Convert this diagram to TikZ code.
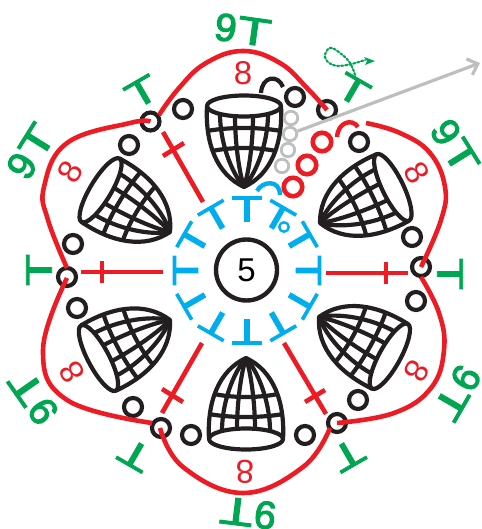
\documentclass[tikz,border=0pt]{standalone}
\usepackage{fontspec}
\setmainfont{Liberation Sans}
\usetikzlibrary{arrows.meta}
\newfontfamily\cyT{Liberation Sans}[FakeStretch=1.42,FakeBold=2.5]
\newfontfamily\nineF{Liberation Sans}[FakeBold=3]
\definecolor{myred}{RGB}{237,28,36}
\definecolor{mygreen}{RGB}{0,166,81}
\definecolor{mycyan}{RGB}{0,174,239}
\definecolor{myblack}{RGB}{35,31,32}
\definecolor{mygrey}{RGB}{188,190,192}
\tikzset{
 x=1pt,y=-1pt,
 blk/.style={draw=myblack,line width=4.2pt,circle,minimum size=18pt,inner sep=0pt},
 redc/.style={draw=myred,line width=4.6pt,circle,minimum size=18.5pt,inner sep=0pt},
 gryc/.style={draw=mygrey,line width=2.8pt,circle,minimum size=13.5pt,inner sep=0pt},
 redl/.style={draw=myred,line width=4.6pt},
 petal/.style={redl},
 cyanT/.style={text=mycyan,inner sep=0pt,font=\cyT\fontsize{36}{36}\selectfont},
 greenT/.style={text=mygreen,inner sep=0pt,font=\cyT\fontsize{37}{37}\selectfont},
 nineT/.style={text=mygreen,inner sep=0pt,font=\fontsize{39}{39}\selectfont},
 eight/.style={text=myred,inner sep=0pt,font=\fontsize{33}{33}\selectfont},
 fan/.pic={
  \begin{scope}[draw=myblack,line width=4.2pt,line join=round]
   \draw (-37,-81) .. controls (-39,-45) and (-28,-13) .. (0,0)
         .. controls (28,-13) and (39,-45) .. (37,-81);
   \draw (0,-81) ellipse [x radius=37,y radius=10.5];
   \draw (9,-71) .. controls (9,-45) and (5,-15) .. (0,0);
   \draw (-9,-71) .. controls (-9,-45) and (-5,-15) .. (0,0);
   \draw (24,-73) .. controls (24,-45) and (13,-15) .. (0,0);
   \draw (-24,-73) .. controls (-24,-45) and (-13,-15) .. (0,0);
   \draw (-37,-56) .. controls (-15,-60) and (15,-60) .. (37,-56);
   \draw (-32,-36) .. controls (-12,-40) and (12,-40) .. (32,-36);
  \end{scope}
 }
}
\begin{document}
\begin{tikzpicture}
\useasboundingbox (0,0) rectangle (481,529);
% centre
\node[draw=myblack,line width=4.4pt,circle,minimum size=61pt,inner sep=0pt,font=\fontsize{33}{33}\selectfont] (hub) at (246.5,270) {5};
% cyan ring
\foreach \a [count=\i] in {0,30,...,330}
  \node[cyanT,rotate=\a] (c\i) at ({247-61.5*sin(\a)},{270.5-61.5*cos(\a)}) {T};
\draw[mycyan,line width=4.4pt] (257,191) .. controls (262,181) and (280,179) .. (280,195);
\node[draw=mycyan,line width=2.4pt,circle,minimum size=9.5pt,inner sep=0pt] (co) at (284,227) {};
% fans
\pic[rotate=0] at (244,187) {fan};
\pic[rotate=-64] at (320,223) {fan};
\pic[rotate=-119] at (319,317) {fan};
\pic[rotate=180] at (246,358) {fan};
\pic[rotate=118] at (170,320) {fan};
\pic[rotate=59] at (170,232) {fan};
% vertices
\node[blk] (vur) at (327,110) {};
\node[blk] (vr) at (421,267) {};
\node[blk] (vlr) at (337,423) {};
\node[blk] (vll) at (161,428) {};
\node[blk] (vl) at (67,277) {};
\node[blk] (vul) at (150.5,121.5) {};
% small circles
\node[blk] (b1) at (295,97) {};
\node[blk] (b2) at (359,142) {};
\node[blk] (b3) at (412,237) {};
\node[blk] (b4) at (416,301) {};
\node[blk] (b5) at (358,400) {};
\node[blk] (b6) at (305,435) {};
\node[blk] (b7) at (191,435) {};
\node[blk] (b8) at (133,407) {};
\node[blk] (b9) at (77,308) {};
\node[blk] (b10) at (73,244) {};
\node[blk] (b11) at (129,145) {};
\node[blk] (b12) at (183,109) {};
\draw[myblack,line width=4.2pt] (261,93) .. controls (262,76) and (278,74) .. (283,87);
% red chain
\node[redc] (r1) at (322,142) {};
\node[redc] (r2) at (307,165) {};
\node[redc] (r3) at (293,187) {};
\draw[myred,line width=4.4pt] (337,137) .. controls (338,122) and (352,118) .. (358,127);
% grey chain and arrow
\node[gryc] (g1) at (291,118) {};
\node[gryc] (g2) at (290,134) {};
\node[gryc] (g3) at (288,150) {};
\node[gryc] (g4) at (282,166) {};
\coordinate (gend) at (480,63);
\draw[mygrey,line width=3.2pt,-{Straight Barb[length=9pt,width=17pt]}] (g2) -- (gend);
% green start mark
\coordinate (d1) at (355,75);
\coordinate (d2) at (375,61);
\draw[mygreen,line width=2.1pt,dotted,line cap=round] plot[smooth,tension=0.7] coordinates {(d1) (350,63) (340,53) (330,48) (325,57) (333,65) (347,65) (365,60)};
\fill[mygreen] (d2) -- (364,57) -- (367,61) -- (365,65) -- cycle;
% spokes
\coordinate (s1a) at (203,202); \coordinate (s1b) at (163,132);
\coordinate (x1a) at (163,156); \coordinate (x1b) at (184,143);
\draw[redl] (s1a) -- (s1b); \draw[redl] (x1a) -- (x1b);
\coordinate (s2a) at (163,272); \coordinate (s2b) at (81,272);
\coordinate (x2a) at (102,261); \coordinate (x2b) at (102,283);
\draw[redl] (s2a) -- (s2b); \draw[redl] (x2a) -- (x2b);
\coordinate (s3a) at (202,343); \coordinate (s3b) at (162,413);
\coordinate (x3a) at (162,389); \coordinate (x3b) at (183,402);
\draw[redl] (s3a) -- (s3b); \draw[redl] (x3a) -- (x3b);
\coordinate (s4a) at (284,343); \coordinate (s4b) at (326,414);
\coordinate (x4a) at (305,402); \coordinate (x4b) at (325,390);
\draw[redl] (s4a) -- (s4b); \draw[redl] (x4a) -- (x4b);
\coordinate (s5a) at (326,273); \coordinate (s5b) at (408,273);
\coordinate (x5a) at (386,262); \coordinate (x5b) at (386,284);
\draw[redl] (s5a) -- (s5b); \draw[redl] (x5a) -- (x5b);
% petals
\draw[petal] plot[smooth,tension=0.7] coordinates {(159,115) (179,88) (206,63) (243,51) (280,63) (307,88) (vur.center)};
\draw[petal] plot[smooth,tension=0.7] coordinates {(366,123) (400,133) (430,153) (445,187) (441,220) (vr.center)};
\draw[petal] plot[smooth,tension=0.7] coordinates {(421,277) (439,313) (444,350) (431,388) (394,413) (vlr.center)};
\draw[petal] plot[smooth,tension=0.7] coordinates {(330,428) (303,467) (243,493) (183,467) (160,428)};
\draw[petal] plot[smooth,tension=0.7] coordinates {(152,423) (67,400) (43,350) (67,278)};
\draw[petal] plot[smooth,tension=0.7] coordinates {(67,268) (48,220) (44,187) (67,143) (130,123) (vul.center)};
% eights
\node[eight] (e1) at (243,73) {8};
\node[eight,rotate=-60] (e2) at (417,173) {8};
\node[eight,rotate=-120] (e3) at (417,371) {8};
\node[eight,rotate=180] (e4) at (245,472) {8};
\node[eight,rotate=120] (e5) at (72,372) {8};
\node[eight,rotate=60] (e6) at (70,172) {8};
% green T
\node[greenT,rotate=-30] (t1) at (353,90) {T};
\node[greenT,rotate=-90] (t2) at (450,274) {T};
\node[greenT,rotate=-150] (t3) at (348,455) {T};
\node[greenT,rotate=150] (t4) at (135,455) {T};
\node[greenT,rotate=90] (t5) at (39,270) {T};
\node[greenT,rotate=30] (t6) at (142,92) {T};
% green 9T
\newcommand\nT{{\nineF 9}\kern1pt{\cyT T}}
\node[nineT,rotate=-8] (n1) at (243,30) {\nT};
\node[nineT,rotate=-58] (n2) at (455,147) {\nT};
\node[nineT,rotate=-120] (n3) at (457,393) {\nT};
\node[nineT,rotate=173] (n4) at (248,513) {\nT};
\node[nineT,rotate=125] (n5) at (33,397) {\nT};
\node[nineT,rotate=58] (n6) at (31,151) {\nT};
\end{tikzpicture}
\end{document}
